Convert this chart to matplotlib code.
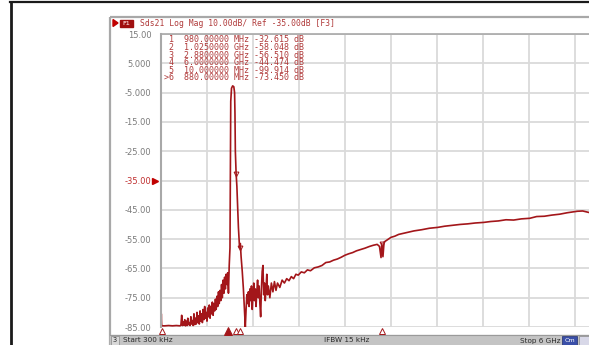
import numpy as np
import matplotlib
matplotlib.use("Agg")
import matplotlib.pyplot as plt
from matplotlib.patches import Rectangle
from matplotlib.transforms import blended_transform_factory

# trace (GHz, dB)
freq_ghz = [
    0.0003, 0.004, 0.008, 0.012, 0.05, 0.1, 0.15, 0.2, 0.25,
    0.26, 0.27, 0.28, 0.29, 0.30, 0.31, 0.32, 0.33, 0.34, 0.35,
    0.36, 0.37, 0.38, 0.39, 0.40, 0.41, 0.42, 0.43, 0.44, 0.45,
    0.46, 0.47, 0.48, 0.49, 0.50, 0.51, 0.52, 0.53, 0.54, 0.55,
    0.56, 0.57, 0.58, 0.59, 0.60, 0.61, 0.62, 0.63, 0.64, 0.65,
    0.66, 0.67, 0.68, 0.69, 0.70, 0.71, 0.72, 0.73, 0.74, 0.75,
    0.76, 0.77, 0.78, 0.79, 0.80, 0.81, 0.82, 0.83, 0.84, 0.85,
    0.86, 0.87, 0.88, 0.89, 0.90,
    0.905, 0.91, 0.92, 0.935, 0.95, 0.96, 0.965, 0.97, 0.98, 0.99, 1.00,
    1.01, 1.025, 1.035, 1.045, 1.06, 1.075, 1.09, 1.10,
    1.11, 1.12, 1.13, 1.14, 1.15, 1.16, 1.17, 1.18, 1.19, 1.20,
    1.21, 1.22, 1.23, 1.24, 1.25, 1.26, 1.27, 1.28, 1.29, 1.30,
    1.31, 1.32, 1.33, 1.34, 1.35, 1.36, 1.37, 1.38, 1.39, 1.40,
    1.42, 1.44, 1.46, 1.48, 1.50, 1.52, 1.55, 1.58, 1.61, 1.64,
    1.67, 1.70, 1.73, 1.76, 1.79, 1.83, 1.87, 1.91, 1.95, 2.00,
    2.05, 2.10, 2.15, 2.20, 2.25, 2.30, 2.35, 2.40, 2.45, 2.50,
    2.55, 2.60, 2.66, 2.72, 2.77, 2.82, 2.85, 2.87, 2.88, 2.895,
    2.91, 2.95, 3.00, 3.05, 3.10, 3.20, 3.30, 3.40, 3.50, 3.61,
    3.70, 3.80, 3.90, 4.00, 4.10, 4.21, 4.30, 4.40, 4.50, 4.60,
    4.70, 4.81, 4.90, 5.00, 5.10, 5.20, 5.30, 5.43, 5.50, 5.58,
    5.70, 5.85, 6.00,
]
mag_db = [
    -85.0, -80.5, -84.0, -84.6, -84.6, -84.5, -84.6, -84.5, -84.6,
    -84.3, -81.0, -84.5, -83.2, -84.4, -82.5, -84.6, -83.0, -84.5, -82.0,
    -84.2, -83.5, -84.5, -81.5, -84.0, -82.8, -84.5, -80.5, -84.2, -82.0,
    -84.0, -80.0, -83.5, -81.2, -84.0, -79.5, -83.0, -80.5, -83.5, -79.0,
    -82.5, -78.0, -82.0, -80.0, -83.0, -78.5, -81.5, -77.5, -82.0, -78.0,
    -80.5, -76.5, -81.0, -77.0, -79.5, -75.5, -79.0, -74.5, -78.0, -73.0,
    -77.0, -72.5, -76.0, -70.5, -75.0, -69.0, -73.5, -68.0, -72.0, -67.0,
    -70.5, -66.5, -73.45, -64.0, -58.0,
    -30.0, -8.0, -3.5, -2.7, -3.0, -5.0, -12.0, -25.0, -32.6, -37.0, -44.0,
    -51.0, -58.0, -56.5, -61.0, -66.0, -72.0, -80.0, -85.0,
    -79.0, -74.0, -77.0, -73.0, -78.0, -72.0, -76.0, -71.0, -79.0, -74.0,
    -70.0, -76.0, -72.0, -78.0, -73.0, -69.0, -75.0, -71.0, -77.0, -81.5,
    -72.0, -66.0, -64.0, -74.0, -70.0, -76.0, -72.0, -67.0, -74.0, -71.0,
    -75.0, -70.0, -73.0, -69.5, -72.5, -70.0, -71.5, -69.0, -70.0, -68.5,
    -69.2, -67.8, -68.5, -67.0, -67.3, -66.2, -66.5, -65.5, -65.8, -64.8,
    -64.5, -64.0, -63.0, -62.8, -62.2, -61.8, -61.2, -60.5, -60.0, -59.6,
    -59.0, -58.6, -58.1, -57.5, -57.1, -56.8, -57.5, -61.3, -56.5, -61.0,
    -56.0, -55.3, -54.4, -54.0, -53.4, -52.8, -52.2, -51.8, -51.3, -51.0,
    -50.6, -50.3, -50.0, -49.8, -49.5, -49.3, -49.0, -48.8, -48.4, -48.5,
    -48.1, -47.9, -47.3, -47.2, -46.8, -46.5, -46.0, -45.5, -45.4, -45.9,
    -45.5, -45.0, -44.5,
]

# marker table
marker_ids = ["1", "2", "3", "4", "5", ">6"]
marker_freq_ghz = [0.98, 1.025, 2.88, 6.0, 0.01, 0.88]
marker_db = [-32.615, -58.048, -56.510, -44.474, -99.914, -73.450]

y_ticks = [15, 5, -5, -15, -25, -35, -45, -55, -65, -75, -85]
y_labels = ["15.00", "5.000", "-5.000", "-15.00", "-25.00", "-35.00",
            "-45.00", "-55.00", "-65.00", "-75.00", "-85.00"]
ref_level = -35.0
f_start, f_stop = 0.0003, 6.0

header = "Sds21 Log Mag 10.00dB/ Ref -35.00dB [F3]"

W, H = 589, 345
trace_c = "#a3161a"
text_c = "#b03a3a"
grid_c = "#dadada"
frame_c = "#a8a8a8"
status_c = "#2a2a2a"
mono = "DejaVu Sans Mono"

fig = plt.figure(figsize=(W / 100, H / 100), dpi=100)
fig.patch.set_facecolor("white")

# pixel-space layer for the instrument chrome
bg = fig.add_axes([0, 0, 1, 1])
bg.set_xlim(0, W)
bg.set_ylim(H, 0)
bg.axis("off")

bg.plot([10, W], [1.5, 1.5], color="#1a1a1a", lw=1.6)
bg.plot([10.5, 10.5], [1.5, H], color="#1a1a1a", lw=2.0)
bg.add_patch(Rectangle((110, 16.5), 500, 340, fill=False, ec=frame_c, lw=1.6))

# header line
bg.fill([113, 113, 118], [19.5, 26.5, 23], color="#c00000")
bg.add_patch(Rectangle((120, 19.5), 13, 7.5, color="#a01010"))
bg.text(126.5, 23.5, "F1", color="#f0c0c0", fontsize=4.5, ha="center", va="center",
        family=mono, fontweight="bold")
bg.text(140, 23, header, color=text_c, fontsize=5.8, family=mono, va="center")

# status bar
bg.add_patch(Rectangle((110, 335), 480, 10, color="#c4c4c4"))
bg.plot([110, W], [335, 335], color="#9a9a9a", lw=0.8)
bg.add_patch(Rectangle((111, 336), 8, 9, fc="#d8d8d8", ec="#8a8a8a", lw=0.5))
bg.text(115, 340.5, "3", fontsize=4.8, ha="center", va="center", color=status_c)
bg.text(123, 340.5, "Start 300 kHz", fontsize=5.2, va="center", color=status_c)
bg.text(347, 340.5, "IFBW 15 kHz", fontsize=5.2, va="center", ha="center", color=status_c)
bg.text(560, 340.5, "Stop 6 GHz", fontsize=5.2, va="center", ha="right", color=status_c)
bg.add_patch(Rectangle((562, 336), 15, 9, fc="#3a4fa8", ec="#1e2c70", lw=0.5))
bg.text(569.5, 340.5, "Cm", fontsize=4.6, va="center", ha="center", color="white")
bg.add_patch(Rectangle((579, 336), 12, 9, fc="#d8d8e8", ec="#8a8a8a", lw=0.5))

# data axes: 10 x 46 px divisions, partly cut off at the right edge
left, right = 161, 621
top, bottom = 34, 327
ax = fig.add_axes([left / W, (H - bottom) / H, (right - left) / W, (bottom - top) / H])
ax.set_facecolor("none")
ax.set_xlim(f_start, f_stop)
ax.set_ylim(-85, 15)
ax.set_xticks(np.linspace(f_start, f_stop, 11))
ax.set_yticks(y_ticks)
ax.set_xticklabels([])
ax.set_yticklabels(y_labels, fontsize=6, color="#7a7a7a")
ax.tick_params(length=0, pad=7)
for lbl in ax.get_yticklabels():
    if lbl.get_text() == "-35.00":
        lbl.set_color("#c03030")
ax.grid(True, color=grid_c, lw=1.3)
ax.set_axisbelow(True)
for side in ["right", "bottom"]:
    ax.spines[side].set_visible(False)
ax.spines["left"].set_color(frame_c)
ax.spines["left"].set_linewidth(1.5)
ax.spines["top"].set_color(frame_c)
ax.spines["top"].set_linewidth(1.2)

ax.plot(freq_ghz, mag_db, color=trace_c, lw=1.2, clip_on=True)

# reference level arrow
trans_ref = blended_transform_factory(ax.transAxes, ax.transData)
ax.plot([-0.012], [ref_level], marker=">", color="#c00000", ms=4.5,
        transform=trans_ref, clip_on=False)

# markers on trace and along the bottom edge
trans_bot = blended_transform_factory(ax.transData, ax.transAxes)
for mid, mf, md in zip(marker_ids, marker_freq_ghz, marker_db):
    active = mid.startswith(">")
    if -85 <= md <= 15 and not active:
        ax.plot(mf, md, marker="v", ms=3.5, mfc="none", mec=trace_c, mew=0.7)
    ax.plot(mf, -0.012, marker="^", ms=5.5 if active else 4,
            mfc=trace_c if active else "white", mec=trace_c, mew=0.7,
            transform=trans_bot, clip_on=False)


def fmt_freq(f_ghz):
    if f_ghz >= 1:
        v, unit = f_ghz, "GHz"
    else:
        v, unit = f_ghz * 1000, "MHz"
    dec = 8 - len(str(int(v)))
    return f"{v:.{dec}f} {unit}"


# marker readout, drawn on the data axes so it sits above the grid
for i, (mid, mf, md) in enumerate(zip(marker_ids, marker_freq_ghz, marker_db)):
    line = f"{mid:>2}  {fmt_freq(mf)} {md:.3f} dB"
    ax.text(164, 40 + i * 7.6, line, color=text_c, fontsize=6, family=mono,
            va="center", transform=bg.transData, zorder=5)

fig.savefig("out.png", dpi=100)
